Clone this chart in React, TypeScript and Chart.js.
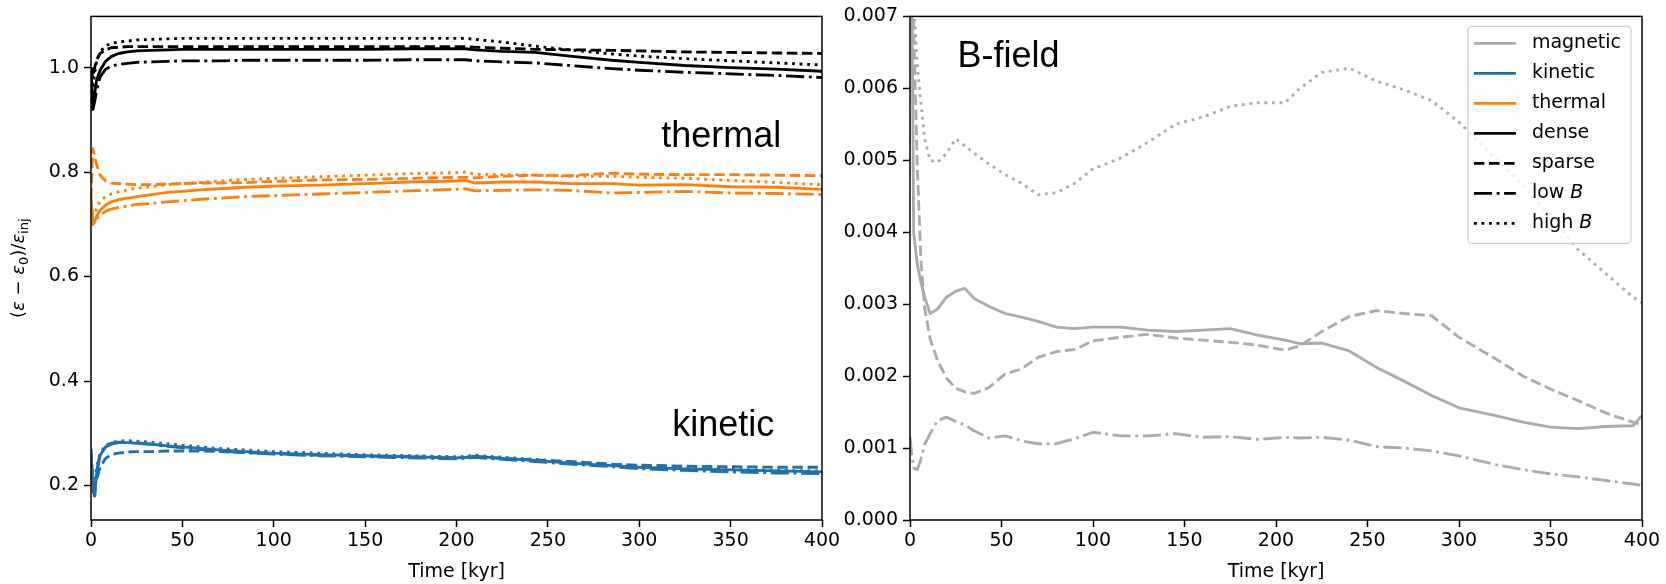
import React, { useEffect, useRef } from 'react';
import { Chart, registerables } from 'chart.js';

Chart.register(...registerables);

// ---------------- data ----------------
const timeLeft = [0, 1, 2, 3, 5, 8, 11, 15, 20, 25, 33, 42, 50, 60, 70, 85, 100, 125, 150, 175, 200, 205, 210, 225, 243, 262, 285, 300, 325, 350, 375, 400];

const totalDense = [1.0, 0.92, 0.95, 0.975, 0.995, 1.012, 1.021, 1.027, 1.030, 1.032, 1.033, 1.034, 1.035, 1.035, 1.035, 1.035, 1.035, 1.035, 1.035, 1.036, 1.036, 1.036, 1.034, 1.031, 1.029, 1.022, 1.014, 1.010, 1.004, 1.000, 0.997, 0.993];
const totalSparse = [1.0, 0.98, 1.0, 1.015, 1.027, 1.034, 1.038, 1.039, 1.040, 1.040, 1.040, 1.040, 1.040, 1.040, 1.040, 1.040, 1.040, 1.040, 1.040, 1.040, 1.040, 1.040, 1.039, 1.037, 1.035, 1.034, 1.033, 1.032, 1.030, 1.029, 1.028, 1.027];
const totalLowB = [0.98, 0.92, 0.935, 0.955, 0.982, 0.997, 1.003, 1.006, 1.008, 1.010, 1.011, 1.012, 1.013, 1.013, 1.013, 1.014, 1.014, 1.014, 1.014, 1.015, 1.015, 1.015, 1.013, 1.011, 1.009, 1.004, 0.998, 0.995, 0.991, 0.988, 0.985, 0.981];
const totalHighB = [1.0, 0.96, 0.99, 1.01, 1.03, 1.042, 1.046, 1.049, 1.051, 1.053, 1.054, 1.055, 1.056, 1.056, 1.056, 1.056, 1.056, 1.056, 1.056, 1.056, 1.056, 1.056, 1.054, 1.049, 1.041, 1.034, 1.026, 1.022, 1.017, 1.013, 1.009, 1.005];

const thermalDense = [0.75, 0.71, 0.705, 0.715, 0.727, 0.737, 0.743, 0.747, 0.750, 0.753, 0.757, 0.761, 0.763, 0.766, 0.768, 0.771, 0.773, 0.775, 0.778, 0.781, 0.783, 0.784, 0.779, 0.781, 0.781, 0.778, 0.778, 0.775, 0.776, 0.772, 0.771, 0.767];
const thermalSparse = [0.75, 0.845, 0.83, 0.815, 0.794, 0.783, 0.779, 0.778, 0.777, 0.776, 0.776, 0.777, 0.778, 0.779, 0.779, 0.780, 0.782, 0.785, 0.786, 0.788, 0.790, 0.790, 0.789, 0.792, 0.794, 0.793, 0.798, 0.796, 0.795, 0.795, 0.794, 0.793];
const thermalLowB = [0.73, 0.70, 0.703, 0.71, 0.718, 0.725, 0.729, 0.732, 0.735, 0.738, 0.740, 0.743, 0.745, 0.748, 0.750, 0.753, 0.755, 0.758, 0.761, 0.764, 0.767, 0.768, 0.764, 0.765, 0.766, 0.765, 0.760, 0.761, 0.763, 0.760, 0.759, 0.757];
const thermalHighB = [0.74, 0.72, 0.72, 0.73, 0.745, 0.753, 0.758, 0.762, 0.766, 0.769, 0.772, 0.776, 0.778, 0.780, 0.783, 0.786, 0.788, 0.791, 0.794, 0.797, 0.799, 0.800, 0.796, 0.795, 0.794, 0.792, 0.792, 0.790, 0.788, 0.784, 0.780, 0.776];

const kineticDense = [0.26, 0.20, 0.18, 0.22, 0.258, 0.274, 0.279, 0.282, 0.282, 0.281, 0.279, 0.276, 0.274, 0.271, 0.268, 0.265, 0.262, 0.259, 0.257, 0.255, 0.253, 0.254, 0.256, 0.252, 0.248, 0.243, 0.238, 0.235, 0.232, 0.230, 0.228, 0.226];
const kineticSparse = [0.27, 0.21, 0.20, 0.21, 0.235, 0.252, 0.259, 0.262, 0.264, 0.265, 0.265, 0.266, 0.266, 0.266, 0.265, 0.263, 0.261, 0.258, 0.256, 0.255, 0.253, 0.254, 0.255, 0.252, 0.249, 0.246, 0.241, 0.239, 0.237, 0.236, 0.235, 0.235];
const kineticLowB = [0.25, 0.19, 0.18, 0.225, 0.262, 0.276, 0.281, 0.283, 0.283, 0.282, 0.279, 0.275, 0.272, 0.269, 0.266, 0.263, 0.260, 0.257, 0.255, 0.253, 0.251, 0.252, 0.254, 0.250, 0.246, 0.241, 0.236, 0.232, 0.229, 0.226, 0.224, 0.223];
const kineticHighB = [0.26, 0.21, 0.20, 0.235, 0.262, 0.276, 0.282, 0.285, 0.286, 0.285, 0.283, 0.280, 0.277, 0.274, 0.271, 0.268, 0.265, 0.262, 0.259, 0.257, 0.255, 0.256, 0.258, 0.254, 0.250, 0.245, 0.240, 0.236, 0.233, 0.231, 0.229, 0.228];

const timeRight = [0, 1, 2, 4, 6, 8, 11, 15, 20, 25, 30, 35, 43, 52, 61, 70, 80, 90, 100, 115, 130, 145, 160, 175, 190, 205, 213, 225, 240, 255, 270, 285, 300, 320, 335, 350, 365, 380, 395, 400];

const magDense = [0.012, 0.0075, 0.0040, 0.00355, 0.0033, 0.0031, 0.00287, 0.00293, 0.0031, 0.00318, 0.00322, 0.00308, 0.00297, 0.00287, 0.00282, 0.00276, 0.00268, 0.00266, 0.00268, 0.00268, 0.00264, 0.00262, 0.00264, 0.00266, 0.00257, 0.0025, 0.00245, 0.00246, 0.00235, 0.00212, 0.00193, 0.00173, 0.00156, 0.00145, 0.00136, 0.00129, 0.00127, 0.0013, 0.00131, 0.00145];
const magSparse = [0.012, 0.0085, 0.0068, 0.0049, 0.0036, 0.00295, 0.00252, 0.00222, 0.00197, 0.00183, 0.00178, 0.00176, 0.00184, 0.00203, 0.0021, 0.00226, 0.00234, 0.00237, 0.00249, 0.00254, 0.00258, 0.00253, 0.0025, 0.00247, 0.00243, 0.00236, 0.00242, 0.00262, 0.00283, 0.00291, 0.00287, 0.00284, 0.00254, 0.00224, 0.002, 0.00182, 0.00166, 0.00149, 0.00136, 0.00133];
const magLowB = [0.00115, 0.0009, 0.00072, 0.0007, 0.00085, 0.00105, 0.0012, 0.00138, 0.00143, 0.00137, 0.00132, 0.00124, 0.00114, 0.00117, 0.0011, 0.00106, 0.00106, 0.00113, 0.00122, 0.00117, 0.00117, 0.0012, 0.00115, 0.00116, 0.00112, 0.00115, 0.00114, 0.00115, 0.00111, 0.00102, 0.001, 0.00096, 0.00089, 0.00077, 0.0007, 0.00064, 0.0006, 0.00055, 0.0005, 0.00048];
const magHighB = [0.012, 0.009, 0.0072, 0.0063, 0.0058, 0.0053, 0.0050, 0.00497, 0.0051, 0.0053, 0.0052, 0.0051, 0.00495, 0.0048, 0.00468, 0.00452, 0.00455, 0.00468, 0.00488, 0.00503, 0.00525, 0.0055, 0.0056, 0.00575, 0.0058, 0.0058, 0.006, 0.00622, 0.00628, 0.0061, 0.00598, 0.00583, 0.00553, 0.00502, 0.00465, 0.00423, 0.00376, 0.00343, 0.0031, 0.00302];

const xTicks = [0, 50, 100, 150, 200, 250, 300, 350, 400];
const leftYTicks = [0.2, 0.4, 0.6, 0.8, 1.0];
const rightYTicks = [0, 0.001, 0.002, 0.003, 0.004, 0.005, 0.006, 0.007];

const legendLabels = ['magnetic', 'kinetic', 'thermal', 'dense', 'sparse', 'low $B$', 'high $B$'];

// ---------------- styles ----------------
const FONT = '"DejaVu Sans", sans-serif';
const ANNOT_FONT = '"Liberation Sans", Arial, sans-serif';
const LW = 2.85;
const C_BLACK = '#000000';
const C_ORANGE = '#ff7f0e';
const C_BLUE = '#1f70ad';
const C_GRAY = '#aaaaaa';
const DASH: Record<string, number[]> = {
  solid: [],
  dashed: [10.5, 4.6],
  dashdot: [18.2, 4.6, 2.85, 4.6],
  dotted: [2.85, 4.7],
};
const legendColors = [C_GRAY, C_BLUE, C_ORANGE, C_BLACK, C_BLACK, C_BLACK, C_BLACK];
const legendDashes = ['solid', 'solid', 'solid', 'solid', 'dashed', 'dashdot', 'dotted'];

type Series = { values: number[]; color: string; dash: string };

const leftSeries: Series[] = [
  { values: totalDense, color: C_BLACK, dash: 'solid' },
  { values: totalSparse, color: C_BLACK, dash: 'dashed' },
  { values: totalLowB, color: C_BLACK, dash: 'dashdot' },
  { values: totalHighB, color: C_BLACK, dash: 'dotted' },
  { values: thermalDense, color: C_ORANGE, dash: 'solid' },
  { values: thermalSparse, color: C_ORANGE, dash: 'dashed' },
  { values: thermalLowB, color: C_ORANGE, dash: 'dashdot' },
  { values: thermalHighB, color: C_ORANGE, dash: 'dotted' },
  { values: kineticDense, color: C_BLUE, dash: 'solid' },
  { values: kineticSparse, color: C_BLUE, dash: 'dashed' },
  { values: kineticLowB, color: C_BLUE, dash: 'dashdot' },
  { values: kineticHighB, color: C_BLUE, dash: 'dotted' },
];

const rightSeries: Series[] = [
  { values: magDense, color: C_GRAY, dash: 'solid' },
  { values: magSparse, color: C_GRAY, dash: 'dashed' },
  { values: magLowB, color: C_GRAY, dash: 'dashdot' },
  { values: magHighB, color: C_GRAY, dash: 'dotted' },
];

function makeDatasets(times: number[], series: Series[]) {
  return series.map((s) => ({
    data: times.map((t, i) => ({ x: t, y: s.values[i] })),
    borderColor: s.color,
    borderWidth: LW,
    borderDash: DASH[s.dash],
    borderCapStyle: 'butt',
    borderJoinStyle: 'round',
    pointRadius: 0,
    pointHoverRadius: 0,
    fill: false,
    tension: 0,
  }));
}

const gridOpts = {
  display: true,
  drawOnChartArea: false,
  drawTicks: true,
  tickLength: 7,
  tickWidth: 1.5,
  tickColor: '#000',
};

function xScaleOpts() {
  return {
    type: 'linear',
    min: 0,
    max: 400,
    afterBuildTicks: (s: any) => {
      s.ticks = xTicks.map((v) => ({ value: v }));
    },
    afterFit: (s: any) => {
      s.height = 64;
    },
    ticks: {
      color: '#000',
      font: { family: FONT, size: 19 },
      padding: 3,
      maxRotation: 0,
      autoSkip: false,
      callback: (v: any) => String(v),
    },
    grid: gridOpts,
    border: { display: false },
    title: {
      display: true,
      text: 'Time [kyr]',
      color: '#000',
      font: { family: FONT, size: 19 },
      padding: { top: 0, bottom: 1 },
    },
  };
}

function yScaleOpts(min: number, max: number, ticks: number[], width: number, digits: number) {
  return {
    type: 'linear',
    min,
    max,
    afterBuildTicks: (s: any) => {
      s.ticks = ticks.map((v) => ({ value: v }));
    },
    afterFit: (s: any) => {
      s.width = width;
    },
    ticks: {
      color: '#000',
      font: { family: FONT, size: 19 },
      padding: 5,
      autoSkip: false,
      callback: (v: any) => Number(v).toFixed(digits),
    },
    grid: gridOpts,
    border: { display: false },
  };
}

function drawFrame(chart: any) {
  const { ctx, chartArea: a } = chart;
  ctx.save();
  ctx.strokeStyle = '#000';
  ctx.lineWidth = 1.5;
  ctx.setLineDash([]);
  ctx.strokeRect(a.left, a.top, a.right - a.left, a.bottom - a.top);
  ctx.restore();
}

function drawAnnot(chart: any, text: string, t: number, v: number) {
  const { ctx, scales } = chart;
  ctx.save();
  ctx.fillStyle = '#000';
  ctx.font = `36px ${ANNOT_FONT}`;
  ctx.textAlign = 'left';
  ctx.textBaseline = 'alphabetic';
  ctx.fillText(text, scales.x.getPixelForValue(t), scales.y.getPixelForValue(v));
  ctx.restore();
}

function drawYLabel(chart: any) {
  const { ctx, chartArea: a } = chart;
  const big = 18;
  const small = 13;
  const parts = [
    { t: '(', f: `${big}px ${FONT}`, dy: 0 },
    { t: 'ε', f: `italic ${big}px ${FONT}`, dy: 0 },
    { t: ' − ', f: `${big}px ${FONT}`, dy: 0 },
    { t: 'ε', f: `italic ${big}px ${FONT}`, dy: 0 },
    { t: '0', f: `${small}px ${FONT}`, dy: 4 },
    { t: ')/', f: `${big}px ${FONT}`, dy: 0 },
    { t: 'ε', f: `italic ${big}px ${FONT}`, dy: 0 },
    { t: 'inj', f: `${small}px ${FONT}`, dy: 4 },
  ];
  ctx.save();
  let total = 0;
  const widths = parts.map((p) => {
    ctx.font = p.f;
    const w = ctx.measureText(p.t).width;
    total += w;
    return w;
  });
  ctx.translate(19, (a.top + a.bottom) / 2);
  ctx.rotate(-Math.PI / 2);
  ctx.fillStyle = '#000';
  ctx.textBaseline = 'alphabetic';
  ctx.textAlign = 'left';
  let x = -total / 2;
  parts.forEach((p, i) => {
    ctx.font = p.f;
    ctx.fillText(p.t, x, 5 + p.dy);
    x += widths[i];
  });
  ctx.restore();
}

function drawLegend(chart: any) {
  const { ctx, chartArea: a } = chart;
  const fs = 19;
  ctx.save();
  const segs = legendLabels.map((lab) => {
    const out: { t: string; it: boolean }[] = [];
    lab.split('$').forEach((s, i) => {
      if (s) out.push({ t: s, it: i % 2 === 1 });
    });
    return out;
  });
  let maxW = 0;
  segs.forEach((ss) => {
    let w = 0;
    ss.forEach((s) => {
      ctx.font = `${s.it ? 'italic ' : ''}${fs}px ${FONT}`;
      w += ctx.measureText(s.t).width;
    });
    maxW = Math.max(maxW, w);
  });
  const padL = 6;
  const handle = 42;
  const gap = 16;
  const padR = 10;
  const rowH = 30;
  const boxW = padL + handle + gap + maxW + padR;
  const boxH = 17 + rowH * (legendLabels.length - 1) + 20;
  const right = a.right - 11;
  const left = right - boxW;
  const top = a.top + 10;
  ctx.beginPath();
  if ((ctx as any).roundRect) (ctx as any).roundRect(left, top, boxW, boxH, 4);
  else ctx.rect(left, top, boxW, boxH);
  ctx.fillStyle = 'rgba(255,255,255,0.8)';
  ctx.fill();
  ctx.strokeStyle = '#d0d0d0';
  ctx.lineWidth = 1.3;
  ctx.stroke();
  segs.forEach((ss, i) => {
    const cy = top + 17 + i * rowH;
    ctx.beginPath();
    ctx.setLineDash(DASH[legendDashes[i]]);
    ctx.lineCap = 'butt';
    ctx.lineWidth = LW;
    ctx.strokeStyle = legendColors[i];
    ctx.moveTo(left + padL, cy);
    ctx.lineTo(left + padL + handle, cy);
    ctx.stroke();
    ctx.setLineDash([]);
    let x = left + padL + handle + gap;
    ctx.fillStyle = '#000';
    ctx.textBaseline = 'middle';
    ctx.textAlign = 'left';
    ss.forEach((s) => {
      ctx.font = `${s.it ? 'italic ' : ''}${fs}px ${FONT}`;
      ctx.fillText(s.t, x, cy);
      x += ctx.measureText(s.t).width;
    });
  });
  ctx.restore();
}

const leftPlugin = {
  id: 'leftDecor',
  afterDatasetsDraw(chart: any) {
    drawFrame(chart);
    drawAnnot(chart, 'thermal', 312, 0.848);
    drawAnnot(chart, 'kinetic', 318, 0.294);
    drawYLabel(chart);
  },
};

const rightPlugin = {
  id: 'rightDecor',
  afterDatasetsDraw(chart: any) {
    drawFrame(chart);
    drawAnnot(chart, 'B-field', 26, 0.0063);
    drawLegend(chart);
  },
};

function baseOptions(yOpts: any, padRight: number) {
  return {
    responsive: false,
    animation: false,
    devicePixelRatio: 1,
    layout: { padding: { left: 0, top: 13, right: padRight, bottom: 0 } },
    plugins: { legend: { display: false }, tooltip: { enabled: false } },
    events: [],
    scales: { x: xScaleOpts(), y: yOpts },
  };
}

export default function App() {
  const leftRef = useRef<HTMLCanvasElement>(null);
  const rightRef = useRef<HTMLCanvasElement>(null);

  useEffect(() => {
    document.body.style.margin = '0';
    const left = new Chart(leftRef.current as HTMLCanvasElement, {
      type: 'line',
      data: { datasets: makeDatasets(timeLeft, leftSeries) as any },
      options: baseOptions(yScaleOpts(0.134, 1.098, leftYTicks, 91, 1), 28) as any,
      plugins: [leftPlugin],
    });
    const right = new Chart(rightRef.current as HTMLCanvasElement, {
      type: 'line',
      data: { datasets: makeDatasets(timeRight, rightSeries) as any },
      options: baseOptions(yScaleOpts(0, 0.007, rightYTicks, 80, 3), 24) as any,
      plugins: [rightPlugin],
    });
    return () => {
      left.destroy();
      right.destroy();
    };
  }, []);

  return (
    <div style={{ position: 'relative', width: 1666, height: 584, background: '#fff', overflow: 'hidden' }}>
      <canvas ref={leftRef} width={850} height={584} style={{ position: 'absolute', left: 0, top: 0, width: 850, height: 584 }} />
      <canvas ref={rightRef} width={836} height={584} style={{ position: 'absolute', left: 830, top: 0, width: 836, height: 584 }} />
    </div>
  );
}
